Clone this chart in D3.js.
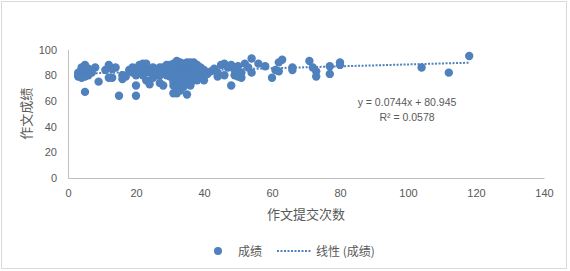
<!DOCTYPE html>
<html>
<head>
<meta charset="utf-8">
<script src="https://cdn.jsdelivr.net/npm/d3@7/dist/d3.min.js"></script>
<style>
  html, body { margin: 0; padding: 0; background: #fff; }
  text { font-family: "Liberation Sans", "Noto Sans CJK SC", sans-serif; fill: #595959; }
  .cjk { font-family: "Noto Sans CJK SC", "Liberation Sans", sans-serif; }
</style>
</head>
<body>
<svg id="chart" width="570" height="271"></svg>
<script>
// 作文提交次数
const submitCounts = [
  3, 3, 4, 4, 4, 5, 5, 5, 5, 6, 6, 3, 4, 5,
  7, 8, 9, 11, 12, 12, 13, 13, 14,
  15, 16, 16, 17, 18, 19, 19, 20, 20, 20, 20,
  21, 21, 22, 22, 22, 23, 23, 23, 24, 24, 25, 25, 26, 26, 27, 27, 28, 28, 29, 29,
  30, 30, 30, 30, 31, 31, 31, 31, 31, 32, 32, 32, 32, 32, 32, 33, 33, 33, 33, 33, 33,
  34, 34, 34, 34, 34, 35, 35, 35, 35, 35, 36, 36, 36, 36, 36, 37, 37, 37, 37,
  38, 38, 38, 39, 39, 39, 40, 40, 40,
  30, 31, 32, 33, 34, 35, 29, 28, 27, 36, 37, 38,
  41, 42, 43, 44, 44, 45, 46, 46, 47, 48, 48, 49, 49, 50, 50, 51, 51, 52, 53, 54, 54,
  56, 58, 60, 61, 62, 62, 63, 66, 66, 71, 72, 73, 73, 77, 77, 80, 80, 104, 112, 118
];
// 成绩
const scores = [
  80, 82, 78, 81, 84, 79, 83, 86, 88, 80, 85, 79, 86, 67,
  82, 86, 75, 84, 88, 78, 78, 85, 86,
  64, 80, 77, 79, 84, 86, 82, 64, 72, 80, 85,
  88, 83, 86, 80, 89, 76, 85, 89, 73, 82, 78, 86, 80, 84, 74, 86, 72, 82, 80, 85,
  84, 88, 79, 82, 66, 75, 80, 85, 89, 66, 70, 78, 82, 86, 91, 73, 76, 80, 84, 88, 90,
  75, 79, 83, 87, 89, 65, 77, 81, 85, 88, 72, 74, 79, 83, 87, 78, 82, 85, 90,
  80, 84, 88, 79, 83, 86, 76, 80, 84,
  86, 72, 74, 68, 71, 90, 88, 86, 80, 90, 76, 76,
  81, 83, 85, 79, 82, 88, 80, 89, 86, 72, 88, 80, 84, 79, 87, 78, 82, 89, 86, 82, 93,
  89, 87, 78, 84, 83, 90, 92, 86, 84, 91, 86, 83, 79, 87, 81, 90, 88, 86, 82, 95
];
const xTicks = [0, 20, 40, 60, 80, 100, 120, 140];
const yTicks = [0, 20, 40, 60, 80, 100];
const trendSlope = 0.0744;
const trendIntercept = 80.945;
const trendLabel = "y = 0.0744x + 80.945";
const r2Label = "R² = 0.0578";
const seriesName = "成绩";
const trendName = "线性 (成绩)";
const xTitle = "作文提交次数";
const yTitle = "作文成绩";

const W = 570, H = 271;
const margin = { left: 68, right: 26, top: 49.5, bottom: 93 };
const color = "#4F81BD";
const axisColor = "#BFBFBF";

const svg = d3.select("#chart");

// 外框
svg.append("rect")
  .attr("x", 1.5).attr("y", 1.5)
  .attr("width", W - 5).attr("height", H - 4)
  .attr("fill", "#fff").attr("stroke", "#D9D9D9");

const x = d3.scaleLinear().domain([0, 140]).range([margin.left, W - margin.right]);
const y = d3.scaleLinear().domain([0, 100]).range([H - margin.bottom, margin.top]);

// 坐标轴
const xAxis = svg.append("g")
  .attr("transform", `translate(0, ${y(0)})`)
  .call(d3.axisBottom(x).tickValues(xTicks).tickSize(0).tickPadding(11));
const yAxis = svg.append("g")
  .attr("transform", `translate(${x(0)}, 0)`)
  .call(d3.axisLeft(y).tickValues(yTicks).tickSize(0).tickPadding(11));

[xAxis, yAxis].forEach(g => {
  g.select(".domain").attr("stroke", axisColor);
  g.selectAll("text").attr("font-size", 11).attr("font-family", "Liberation Sans, sans-serif").attr("fill", "#595959");
});

// 散点
const pts = submitCounts.map((c, i) => ({ c, s: scores[i] }));
svg.append("g").selectAll("circle")
  .data(pts)
  .enter()
  .append("circle")
  .attr("cx", d => x(d.c))
  .attr("cy", d => y(d.s))
  .attr("r", 4.2)
  .attr("fill", color);

// 趋势线
const xMin = d3.min(submitCounts), xMax = d3.max(submitCounts);
svg.append("line")
  .attr("x1", x(xMin)).attr("y1", y(trendSlope * xMin + trendIntercept))
  .attr("x2", x(xMax)).attr("y2", y(trendSlope * xMax + trendIntercept))
  .attr("stroke", color)
  .attr("stroke-width", 2)
  .attr("stroke-dasharray", "2 1.5");

// 公式
svg.append("text")
  .attr("x", 407).attr("y", 106)
  .attr("text-anchor", "middle")
  .attr("font-size", 10.5)
  .text(trendLabel);
svg.append("text")
  .attr("x", 407).attr("y", 121)
  .attr("text-anchor", "middle")
  .attr("font-size", 10.5)
  .text(r2Label);

// 轴标题
svg.append("text")
  .attr("class", "cjk")
  .attr("x", (x(0) + x(140)) / 2).attr("y", 219)
  .attr("text-anchor", "middle")
  .attr("font-size", 13)
  .text(xTitle);
svg.append("text")
  .attr("class", "cjk")
  .attr("transform", `translate(31, ${(y(0) + y(100)) / 2}) rotate(-90)`)
  .attr("text-anchor", "middle")
  .attr("font-size", 13)
  .text(yTitle);

// 图例
const lg = svg.append("g").attr("transform", "translate(0, 251)");
lg.append("circle").attr("cx", 218).attr("cy", 0).attr("r", 4).attr("fill", color);
lg.append("text").attr("class", "cjk").attr("x", 238).attr("y", 4.5).attr("font-size", 12).text(seriesName);
lg.append("line")
  .attr("x1", 277).attr("x2", 311).attr("y1", 0).attr("y2", 0)
  .attr("stroke", color).attr("stroke-width", 2).attr("stroke-dasharray", "2 1.5");
lg.append("text").attr("class", "cjk").attr("x", 316).attr("y", 4.5).attr("font-size", 12).text(trendName);
</script>
</body>
</html>
